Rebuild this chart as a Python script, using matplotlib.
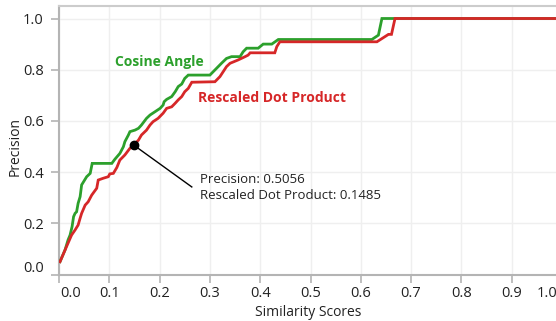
import matplotlib
matplotlib.use("Agg")
import matplotlib.pyplot as plt
import matplotlib.transforms as mtransforms

# ---- data ----
cos_x = [0.002, 0.012, 0.018, 0.022, 0.026, 0.029, 0.032, 0.035, 0.038, 0.042, 0.045,
         0.055, 0.062, 0.066, 0.105, 0.111, 0.121, 0.128, 0.131, 0.138, 0.141, 0.151,
         0.158, 0.164, 0.174, 0.181, 0.191, 0.201, 0.207, 0.209, 0.214, 0.224, 0.231,
         0.237, 0.244, 0.250, 0.257, 0.300, 0.310, 0.323, 0.333, 0.343, 0.360, 0.366,
         0.373, 0.396, 0.406, 0.423, 0.436, 0.622, 0.635, 0.642, 1.0]
cos_y = [0.050, 0.096, 0.135, 0.154, 0.187, 0.226, 0.239, 0.245, 0.278, 0.304, 0.350,
         0.382, 0.395, 0.434, 0.434, 0.450, 0.473, 0.499, 0.519, 0.545, 0.558, 0.564,
         0.571, 0.584, 0.610, 0.623, 0.636, 0.649, 0.662, 0.675, 0.684, 0.695, 0.714,
         0.734, 0.744, 0.766, 0.779, 0.779, 0.799, 0.825, 0.844, 0.851, 0.851, 0.870,
         0.884, 0.884, 0.900, 0.900, 0.918, 0.918, 0.935, 1.0, 1.0]

dot_x = [0.002, 0.015, 0.025, 0.032, 0.038, 0.042, 0.045, 0.052, 0.058, 0.065, 0.075,
         0.078, 0.088, 0.098, 0.101, 0.108, 0.115, 0.121, 0.131, 0.141, 0.1485, 0.158,
         0.164, 0.174, 0.181, 0.187, 0.197, 0.207, 0.214, 0.224, 0.231, 0.237, 0.244,
         0.250, 0.257, 0.264, 0.310, 0.320, 0.333, 0.340, 0.356, 0.370, 0.376, 0.380,
         0.429, 0.433, 0.439, 0.632, 0.655, 0.661, 0.668, 1.0]
dot_y = [0.050, 0.109, 0.154, 0.174, 0.193, 0.220, 0.239, 0.271, 0.284, 0.310, 0.337,
         0.369, 0.376, 0.382, 0.393, 0.395, 0.418, 0.447, 0.467, 0.493, 0.5056, 0.525,
         0.545, 0.564, 0.584, 0.597, 0.610, 0.630, 0.649, 0.655, 0.669, 0.682, 0.695,
         0.714, 0.727, 0.751, 0.753, 0.773, 0.812, 0.825, 0.838, 0.851, 0.857, 0.866,
         0.866, 0.890, 0.909, 0.909, 0.938, 0.938, 1.0, 1.0]

x_ticks = [0.0, 0.1, 0.2, 0.3, 0.4, 0.5, 0.6, 0.7, 0.8, 0.9, 1.0]
y_ticks = [0.0, 0.2, 0.4, 0.6, 0.8, 1.0]
highlight_x = 0.1485
highlight_y = 0.5056

GREEN = "#2ca02c"
RED = "#d62728"
FONT = "Open Sans"

W, H = 556, 321
fig = plt.figure(figsize=(W / 100, H / 100), dpi=100)
ax_left, ax_right, ax_bottom, ax_top = 59, 600, 274.5, 6
ax = fig.add_axes([ax_left / W, 1 - ax_bottom / H, (ax_right - ax_left) / W,
                   (ax_bottom - ax_top) / H])
px_per_x = 503.0
ax.set_xlim(0.0, (ax_right - ax_left) / px_per_x)
ax.set_ylim(0.0, (ax_bottom - ax_top) / 256.0)

ax.plot(cos_x, cos_y, color=GREEN, lw=2.0, solid_joinstyle="miter", zorder=3)
ax.plot(dot_x, dot_y, color=RED, lw=2.0, solid_joinstyle="miter", zorder=4)

ax.set_xticks(x_ticks)
ax.set_yticks(y_ticks)
ax.set_xticklabels([f"{v:.1f}" for v in x_ticks])
ax.set_yticklabels([f"{v:.1f}" for v in y_ticks])
ax.grid(True, color="#efefef", lw=1.0, zorder=0)
ax.set_axisbelow(True)

ax.spines["right"].set_visible(False)
ax.spines["top"].set_color("#cccccc")
ax.spines["top"].set_linewidth(1.5)
for s in ["left", "bottom"]:
    ax.spines[s].set_color("#b4b4b4")
    ax.spines[s].set_linewidth(1.5)

ax.tick_params(axis="both", colors="#b4b4b4", length=6, width=1.2,
               labelcolor="#222222", labelsize=10.5)
ax.tick_params(axis="y", pad=5)
ax.tick_params(axis="x", pad=2.5)
for lab in ax.get_xticklabels() + ax.get_yticklabels():
    lab.set_fontfamily(FONT)

# edge-label adjustments
xl = ax.get_xticklabels()
xl[0].set_transform(xl[0].get_transform() + mtransforms.ScaledTranslation(12 / 100, 0, fig.dpi_scale_trans))
xl[-1].set_transform(xl[-1].get_transform() + mtransforms.ScaledTranslation(-15 / 100, 0, fig.dpi_scale_trans))
yl = ax.get_yticklabels()
yl[0].set_transform(yl[0].get_transform() + mtransforms.ScaledTranslation(0, 8 / 100, fig.dpi_scale_trans))

# series labels
ax.text(0.111, 0.83, "Cosine Angle", color=GREEN, fontsize=10, fontweight="bold",
        family=FONT, va="center", ha="left")
ax.text(0.276, 0.689, "Rescaled Dot Product", color=RED, fontsize=10, fontweight="bold",
        family=FONT, va="center", ha="left")

# annotation
ax.plot([highlight_x], [highlight_y], "o", color="black", ms=6, zorder=6)
ax.plot([highlight_x, 0.264], [highlight_y, 0.342], color="black", lw=1.0, zorder=5)
ax.text(0.28, 0.373, f"Precision: {highlight_y:.4f}", fontsize=9.5, family=FONT,
        color="#222222", va="center", ha="left")
ax.text(0.28, 0.31, f"Rescaled Dot Product: {highlight_x:.4f}", fontsize=9.5, family=FONT,
        color="#222222", va="center", ha="left")

fig.text(308 / W, 1 - 313 / H, "Similarity Scores", fontsize=10, family=FONT,
         color="#222222", ha="center", va="center")
fig.text(15 / W, 1 - 146 / H, "Precision", fontsize=10, family=FONT,
         color="#222222", ha="center", va="center", rotation=90)

fig.savefig("out.png", dpi=100)
